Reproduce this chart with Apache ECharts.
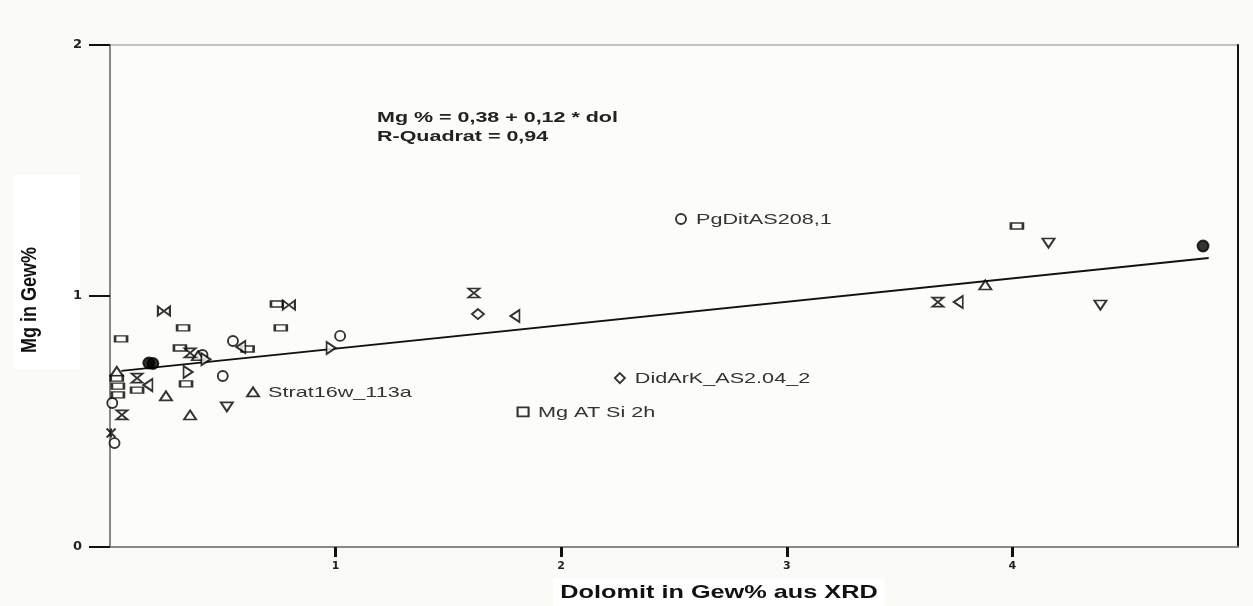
<!DOCTYPE html>
<html>
<head>
<meta charset="utf-8">
<script src="https://cdn.jsdelivr.net/npm/echarts@6/dist/echarts.min.js"></script>
<style>
  html, body { margin: 0; padding: 0; background: #fafaf6; }
  #chart { width: 1253px; height: 606px; }
</style>
</head>
<body>
<div id="chart"></div>
<script>
// Samples grouped by plotting symbol: [dolomite wt% (XRD), Mg wt%]
const openCircles = [[0.545, 0.821], [1.02, 0.841], [0.50, 0.681], [0.41, 0.765], [0.01, 0.574], [0.02, 0.414]];
const flatRects = [[4.02, 1.279], [0.74, 0.968], [0.757, 0.873], [0.324, 0.873], [0.049, 0.829], [0.61, 0.789],
                   [0.31, 0.793], [0.03, 0.673], [0.12, 0.625], [0.035, 0.641], [0.035, 0.606], [0.337, 0.65]];
const trianglesUp = [[3.88, 1.044], [0.03, 0.70], [0.248, 0.602], [0.355, 0.526], [0.39, 0.762]];
const trianglesDown = [[4.16, 1.211], [4.39, 0.964], [0.518, 0.558]];
const trianglesLeft = [[3.76, 0.976], [1.795, 0.920], [0.58, 0.797], [0.168, 0.645]];
const trianglesRight = [[0.98, 0.793], [0.346, 0.697], [0.425, 0.748]];
const hourglasses = [[3.67, 0.976], [1.613, 1.012], [0.355, 0.773], [0.12, 0.673], [0.053, 0.526]];
const bowties = [[0.239, 0.940], [0.793, 0.964]];
const diamonds = [[1.631, 0.928]];
const filledCircles = [[4.845, 1.199], [0.172, 0.733], [0.19, 0.731]];
const asterisks = [[0.005, 0.454]];

// Named samples
const namedLabels = ['PgDitAS208,1', 'Strat16w_113a', 'DidArK_AS2.04_2', 'Mg AT Si 2h'];
const namedX = [2.531, 0.634, 2.26, 1.831];
const namedY = [1.307, 0.618, 0.673, 0.538];
const namedSymbols = ['circle', 'triangle', 'diamond', 'rect'];

// Linear fit as drawn
const fitIntercept = 0.697;
const fitSlope = 0.0933;
const fitRange = [0.05, 4.87];

const xTicks = [1, 2, 3, 4];
const yTicks = [0, 1, 2];

const bg = '#fcfcf9';
const HOURGLASS = 'path://M0,0 L10,0 L0,10 L10,10 Z';
const BOWTIE = 'path://M0,0 L10,10 L10,0 L0,10 Z';
const ASTERISK = 'path://M0,0 L10,10 M10,0 L0,10 M5,0 L5,10';

function markerSeries(data, symbol, size, rotate, filled) {
  return {
    type: 'scatter',
    data: data,
    symbol: symbol,
    symbolSize: size,
    symbolRotate: rotate || 0,
    itemStyle: {
      color: filled ? '#000' : bg,
      borderColor: '#000',
      borderWidth: 1.9
    },
    emphasis: { disabled: true },
    z: 5
  };
}

const namedData = namedLabels.map((n, i) => ({
  value: [namedX[i], namedY[i]],
  name: n,
  symbol: namedSymbols[i],
  symbolSize: namedSymbols[i] === 'rect' ? [11, 9] : (namedSymbols[i] === 'triangle' ? [12, 9] : 10)
}));

const chart = echarts.init(document.getElementById('chart'), null, { renderer: 'canvas' });

chart.setOption({
  backgroundColor: '#fafaf6',
  animation: false,
  grid: {
    left: 110, right: 15, top: 45, bottom: 59,
    show: true, backgroundColor: bg, borderColor: '#888', borderWidth: 1
  },
  xAxis: [{
    type: 'value', min: 0, max: 5, interval: 1,
    axisLine: { show: true, lineStyle: { color: '#888', width: 2 } },
    axisTick: { show: true, customValues: xTicks, length: 10, inside: false, lineStyle: { color: '#111', width: 3 } },
    axisLabel: { customValues: xTicks, margin: 14, fontSize: 11, fontWeight: 'bold', color: '#222', fontFamily: 'DejaVu Sans' },
    splitLine: { show: false }
  }],
  yAxis: [{
    type: 'value', min: 0, max: 2, interval: 1,
    axisLine: { show: true, lineStyle: { color: '#888', width: 2 } },
    axisTick: { show: true, customValues: yTicks, length: 21, lineStyle: { color: '#111', width: 2 } },
    axisLabel: { customValues: yTicks, margin: 28, fontSize: 13, fontWeight: 'bold', color: '#222', fontFamily: 'DejaVu Sans' },
    splitLine: { show: false }
  }, {
    type: 'value', min: 0, max: 2, position: 'right',
    axisLine: { show: true, lineStyle: { color: '#111', width: 2 } },
    axisTick: { show: false }, axisLabel: { show: false }, splitLine: { show: false }
  }],
  graphic: [
    { type: 'rect', left: 13, top: 175, shape: { width: 67, height: 194 }, style: { fill: '#ffffff' }, z: 0 },
    { type: 'rect', left: 553, top: 579, shape: { width: 332, height: 27 }, style: { fill: '#ffffff' }, z: 0 },
    {
      type: 'text', x: 30, y: 300, rotation: Math.PI / 2, scaleY: 1.25,
      style: { text: 'Mg in Gew%', fontSize: 18, fontWeight: 'bold', fontFamily: 'Liberation Sans', fill: '#111', align: 'center', verticalAlign: 'middle' },
      z: 2
    },
    {
      type: 'text', x: 719, y: 593, scaleX: 1.33,
      style: { text: 'Dolomit in Gew% aus XRD', fontSize: 19, fontWeight: 'bold', fontFamily: 'Liberation Sans', fill: '#111', align: 'center', verticalAlign: 'middle' },
      z: 2
    },
    {
      type: 'text', x: 377, y: 118, scaleX: 1.48,
      style: { text: 'Mg % = 0,38 + 0,12 * dol', fontSize: 14.5, fontWeight: 'bold', fontFamily: 'Liberation Sans', fill: '#222', verticalAlign: 'middle' },
      z: 6
    },
    {
      type: 'text', x: 377, y: 137, scaleX: 1.48,
      style: { text: 'R-Quadrat = 0,94', fontSize: 14.5, fontWeight: 'bold', fontFamily: 'Liberation Sans', fill: '#222', verticalAlign: 'middle' },
      z: 6
    }
  ],
  series: [
    {
      type: 'line',
      data: fitRange.map(x => [x, fitIntercept + fitSlope * x]),
      symbol: 'none',
      lineStyle: { color: '#111', width: 1.8 },
      emphasis: { disabled: true },
      z: 3
    },
    markerSeries(openCircles, 'circle', 10),
    markerSeries(flatRects, 'rect', [12, 6]),
    markerSeries(trianglesUp, 'triangle', [12, 9]),
    markerSeries(trianglesDown, 'triangle', [12, 9], 180),
    markerSeries(trianglesLeft, 'triangle', [12, 9], 90),
    markerSeries(trianglesRight, 'triangle', [12, 9], -90),
    markerSeries(hourglasses, HOURGLASS, [11, 9]),
    markerSeries(bowties, BOWTIE, [12, 9]),
    markerSeries(diamonds, 'diamond', [12, 10]),
    markerSeries(filledCircles, 'circle', 11, 0, true),
    markerSeries(asterisks, ASTERISK, [9, 9]),
    markerSeries(namedData, 'circle', 10),
    {
      // sample names, placed right of each named point via the axis scales
      type: 'custom',
      data: namedData.map(d => [d.value[0], d.value[1], d.name]),
      renderItem: function (params, api) {
        const pt = api.coord([api.value(0), api.value(1)]);
        return {
          type: 'text',
          x: pt[0] + 15, y: pt[1] + 1, scaleX: 1.44,
          style: {
            text: namedLabels[params.dataIndex],
            fontSize: 15, fontFamily: 'Liberation Sans', fill: '#333',
            verticalAlign: 'middle'
          }
        };
      },
      z: 6
    }
  ]
});
</script>
</body>
</html>
